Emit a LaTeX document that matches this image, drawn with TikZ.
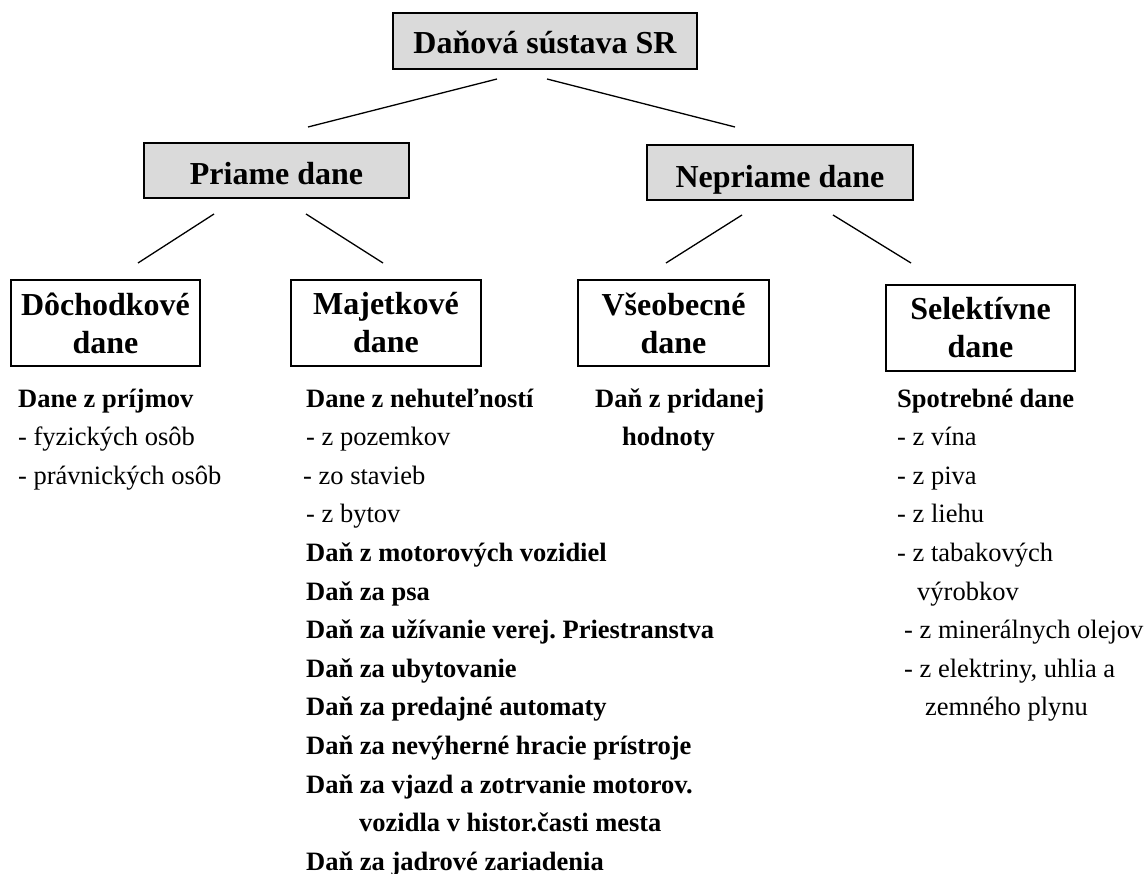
\documentclass[tikz,border=0pt]{standalone}
\usepackage{fontspec}
\setmainfont{Liberation Serif}
\definecolor{boxgray}{RGB}{218,218,218}
\frenchspacing
\begin{document}
\begin{tikzpicture}[x=1pt,y=-1pt,
  headbox/.style={draw, line width=1.6pt, inner sep=0pt, align=center,
    font=\fontsize{32}{38}\selectfont\bfseries},
  graybox/.style={headbox, fill=boxgray, text height=28pt, text depth=0pt},
  conn/.style={line width=1.3pt},
  item/.style={anchor=base west, inner sep=0pt, font=\fontsize{26.5}{30}\selectfont},
  bitem/.style={anchor=base west, inner sep=0pt, font=\fontsize{26.5}{30}\selectfont\bfseries}]
\useasboundingbox (0,0) rectangle (1146,874);

% boxes
\node[graybox, line width=2.2pt, minimum width=304pt, minimum height=56pt, text height=26pt] (root) at (545,41) {Daňová sústava SR};
\node[graybox, minimum width=265pt, minimum height=55pt] (priame) at (276.5,170.5) {Priame dane};
\node[graybox, minimum width=266pt, minimum height=55pt, text height=30pt] (nepriame) at (780,172.5) {Nepriame dane};
\node[headbox, minimum width=189pt, minimum height=86pt] (doch) at (105.5,323) {Dôchodkové\\dane};
\node[headbox, minimum width=190pt, minimum height=86pt] (majet) at (386,323) {Majetkové\\dane};
\node[headbox, minimum width=191pt, minimum height=86pt] (vseob) at (673.5,323) {Všeobecné\\dane};
\node[headbox, minimum width=189pt, minimum height=86pt] (selek) at (980.5,328) {Selektívne\\dane};

% connector end points
\coordinate (ra) at (497,79);  \coordinate (pt) at (308,127);
\coordinate (rb) at (547,79);  \coordinate (nt) at (735,127);
\coordinate (pa) at (214,214); \coordinate (dt) at (138,263);
\coordinate (pb) at (306,214); \coordinate (mt) at (383,263);
\coordinate (na) at (742,215); \coordinate (vt) at (666,263);
\coordinate (nb) at (833,215); \coordinate (st) at (911,263);
\draw[conn] (ra) -- (pt);
\draw[conn] (rb) -- (nt);
\draw[conn] (pa) -- (dt);
\draw[conn] (pb) -- (mt);
\draw[conn] (na) -- (vt);
\draw[conn] (nb) -- (st);

% income taxes
\node[bitem] (d0) at (18,407) {Dane z príjmov};
\node[item]  (d1) at (18,445.6) {- fyzických osôb};
\node[item]  (d2) at (18,484.2) {- právnických osôb};

% property taxes
\node[bitem] (m0)  at (306,407)   {Dane z nehuteľností};
\node[item]  (m1)  at (306,445.6) {- z pozemkov};
\node[item]  (m2)  at (303,484.2) {- zo stavieb};
\node[item]  (m3)  at (306,522.8) {- z bytov};
\node[bitem] (m4)  at (306,561.4) {Daň z motorových vozidiel};
\node[bitem] (m5)  at (306,600)   {Daň za psa};
\node[bitem] (m6)  at (306,638.6) {Daň za užívanie verej. Priestranstva};
\node[bitem] (m7)  at (306,677.2) {Daň za ubytovanie};
\node[bitem] (m8)  at (306,715.8) {Daň za predajné automaty};
\node[bitem] (m9)  at (306,754.4) {Daň za nevýherné hracie prístroje};
\node[bitem] (m10) at (306,793)   {Daň za vjazd a zotrvanie motorov.};
\node[bitem] (m11) at (359,831.6) {vozidla v histor.časti mesta};
\node[bitem] (m12) at (306,870.2) {Daň za jadrové zariadenia};

% general taxes
\node[bitem] (v0) at (595,407)   {Daň z pridanej};
\node[bitem] (v1) at (622,445.6) {hodnoty};

% selective taxes
\node[bitem] (s0) at (897,407)   {Spotrebné dane};
\node[item]  (s1) at (897,445.6) {- z vína};
\node[item]  (s2) at (897,484.2) {- z piva};
\node[item]  (s3) at (897,522.8) {- z liehu};
\node[item]  (s4) at (897,561.4) {- z tabakových};
\node[item]  (s5) at (917,600)   {výrobkov};
\node[item]  (s6) at (904,638.6) {- z minerálnych olejov};
\node[item]  (s7) at (904,677.2) {- z elektriny, uhlia a};
\node[item]  (s8) at (925,715.8) {zemného plynu};
\end{tikzpicture}
\end{document}
